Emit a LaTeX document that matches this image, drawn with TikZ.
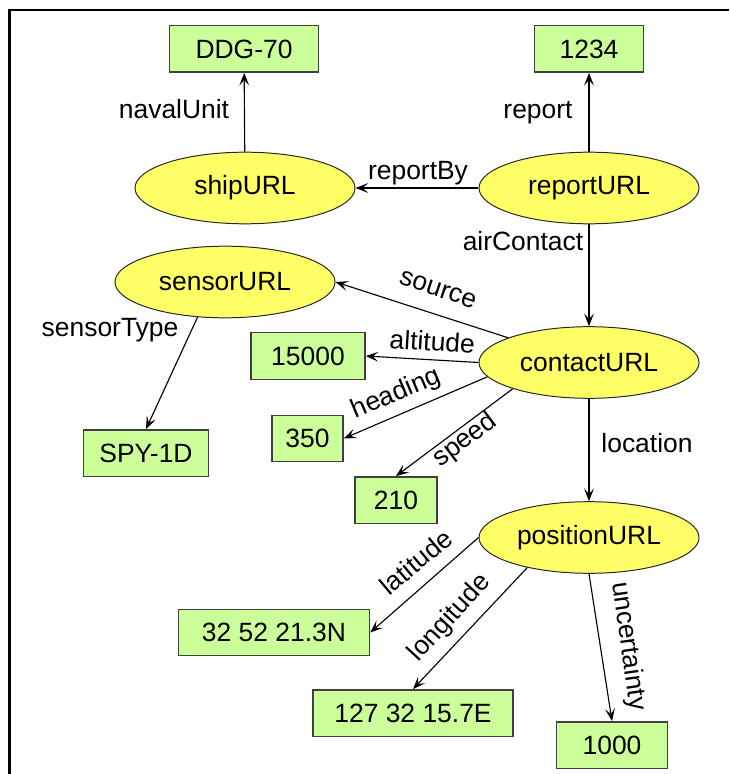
\documentclass[tikz,border=0pt]{standalone}
\usepackage{fontspec}
\setmainfont{Liberation Sans}
\usetikzlibrary{arrows.meta,shapes.geometric}
\definecolor{valgreen}{HTML}{CCFF99}
\definecolor{resyellow}{HTML}{FFFF66}
\begin{document}
\begin{tikzpicture}[x=0.025cm, y=-0.025cm, >={Stealth[length=9pt,width=7pt,inset=4pt]}, font=\fontsize{18.8}{22}\selectfont]
  \tikzset{res/.style={ellipse, draw=black!85, line width=0.7pt, fill=resyellow, minimum width=5.5cm, minimum height=1.79cm, inner sep=0pt},
           val/.style={draw=black!75, line width=1pt, fill=valgreen, minimum height=1.16cm, inner sep=0pt},
           lbl/.style={inner sep=0pt, text height=0.75em, text depth=0.2em},
           conn/.style={->, line width=0.8pt}}
  \useasboundingbox (0,0) rectangle (729,774);
  \draw[line width=1.5pt] (9.5,774) -- (9.5,10) -- (729,10);
  % resources
  \node[res] (s) at (245,188) {shipURL};
  \node[res] (r) at (589,188) {reportURL};
  \node[res] (sn) at (225,282) {sensorURL};
  \node[res] (c) at (589,362.5) {contactURL};
  \node[res] (p) at (589,537.5) {positionURL};
  % literal values
  \node[val, minimum width=3.725cm] (d) at (244,49) {DDG-70};
  \node[val, minimum width=2.725cm] (n) at (589,49) {1234};
  \node[val, minimum width=2.85cm] (alt) at (308,356) {15000};
  \node[val, minimum width=1.775cm] (hd) at (307.5,438.5) {350};
  \node[val, minimum width=3.125cm] (ty) at (146,453) {SPY-1D};
  \node[val, minimum width=2.05cm] (sp) at (396,500) {210};
  \node[val, minimum width=4.775cm] (lat) at (274,632.5) {32 52 21.3N};
  \node[val, minimum width=5cm] (lon) at (413,713) {127 32 15.7E};
  \node[val, minimum width=2.775cm] (unc) at (612,745) {1000};
  % properties
  \draw[conn] (s) -- (d);
  \draw[conn] (r) -- (n);
  \draw[conn] (r) -- (s);
  \draw[conn] (r) -- (c);
  \draw[conn] (c.163) -- (sn.east);
  \draw[conn] (c.west) -- (alt.east);
  \draw[conn] (c.188) -- (hd.east);
  \draw[conn] (c.199.5) -- (sp.north);
  \draw[conn] (sn.232) -- (ty.north);
  \draw[conn] (c) -- (p);
  \draw[conn] (p.west) -- (lat.east);
  \draw[conn] (p.206) -- (lon.north);
  \draw[conn] (p.south) -- (unc.north);
  % property names
  \node[lbl] (lnaval) at (174,114.7) {navalUnit};
  \node[lbl] (lreport) at (538,114.7) {report};
  \node[lbl] (lby) at (418,175.7) {reportBy};
  \node[lbl] (lair) at (523,246.7) {airContact};
  \node[lbl] (ltype) at (110,332.7) {sensorType};
  \node[lbl] (lloc) at (647,448.7) {location};
  \node[lbl, rotate=-18.5] (lsrc) at (437,292.5) {source};
  \node[lbl, rotate=-3.6] (lalt) at (432,347) {altitude};
  \node[lbl, rotate=22.7] (lhd) at (397.5,396.7) {heading};
  \node[lbl, rotate=37] (lsp) at (467,443) {speed};
  \node[lbl, rotate=40] (llat) at (419.6,566) {latitude};
  \node[lbl, rotate=47.5] (llon) at (452,620) {longitude};
  \node[lbl, rotate=-82] (lunc) at (625,646.7) {uncertainty};
\end{tikzpicture}
\end{document}
